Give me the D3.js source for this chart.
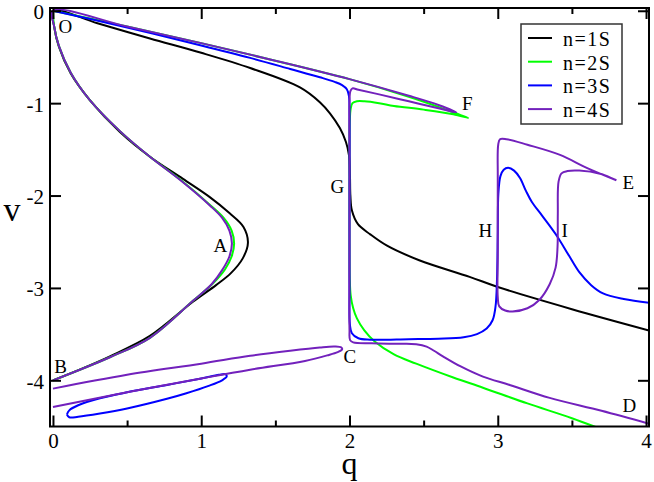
<!DOCTYPE html>
<html><head><meta charset="utf-8">
<script src="https://cdn.jsdelivr.net/npm/d3@7"></script>
<style>body{margin:0;background:#fff}svg{display:block}svg text{font-family:"Liberation Serif","Times New Roman",serif}</style>
</head><body>
<svg id="chart" width="654" height="482"></svg>
<script>
// ---------- data ----------
const xTicks = [0, 1, 2, 3, 4];
const xMinorTicks = [0.5, 1.5, 2.5, 3.5];
const yTicks = [0, -1, -2, -3, -4];
const seriesNames = ["n=1S", "n=2S", "n=3S", "n=4S"];
const seriesColors = ["#000000", "#00ff00", "#0000ff", "#7221bc"];

// n=1S : B -> A -> O -> upper branch -> q=4
const n1 = [[0,-4.0],[0.2,-3.87],[0.384,-3.74],[0.654,-3.52],[0.944,-3.15],[1.1,-2.97],[1.2,-2.84],[1.28,-2.68],[1.315,-2.51],
  [1.285,-2.34],[1.19,-2.19],[1.06,-2.02],[0.877,-1.82],[0.654,-1.58],[0.45,-1.31],[0.25,-0.97],[0.12,-0.68],[0.04,-0.39],[0.008,-0.17],[0,0],
  [0.3,-0.135],[0.654,-0.30],[1.0,-0.455],[1.33,-0.62],[1.666,-0.83],[1.80,-0.99],[1.868,-1.11],[1.935,-1.27],[1.976,-1.42],[1.996,-1.56],
  [2.003,-1.78],[2.006,-2.0],[2.016,-2.16],[2.057,-2.31],[2.14,-2.42],[2.25,-2.54],[2.47,-2.70],[2.81,-2.88],[3.0,-2.99],[3.5,-3.23],[4.02,-3.46]];

// n=2S
const n2Left = [[0,-4.0],[0.384,-3.75],[0.654,-3.54],[0.944,-3.14],[1.08,-2.95],[1.16,-2.80],[1.205,-2.66],[1.222,-2.52],[1.205,-2.38],
  [1.15,-2.24],[1.065,-2.11],[0.86,-1.83],[0.654,-1.58],[0.45,-1.30],[0.25,-0.97],[0.12,-0.67],[0.04,-0.38],[0.008,-0.17],[0,0]];
const n2Upper = [[0,0],[0.5,-0.17],[1.0,-0.35],[1.5,-0.54],[2.0,-0.74],[2.4,-0.93],[2.6,-1.04],[2.75,-1.13],[2.80,-1.16],
  [2.70,-1.12],[2.5,-1.07],[2.3,-1.03],[2.2,-1.0],[2.1,-0.98],[2.05,-0.98],[2.02,-1.0],[2.008,-1.06],[2.002,-1.2],[2.0,-1.6],[2.0,-2.4],
  [2.002,-2.9],[2.008,-3.08],[2.025,-3.22],[2.05,-3.33],[2.1,-3.46],[2.17,-3.58],[2.3,-3.72],[2.45,-3.82],[2.7,-3.97],[2.9,-4.08],
  [3.2,-4.25],[3.5,-4.41],[3.75,-4.56]];

// n=3S
const n3Upper = [[0,0],[0.5,-0.18],[1.0,-0.375],[1.33,-0.51],[1.6,-0.63],[1.8,-0.72],[1.9,-0.77],[1.95,-0.805],[1.982,-0.85],[1.996,-0.92],
  [2.0,-1.1],[2.0,-2.0],[2.0,-3.0],[2.003,-3.4],[2.016,-3.49],[2.06,-3.545],[2.14,-3.56],[2.4,-3.555],[2.6,-3.55],[2.77,-3.535],
  [2.86,-3.50],[2.925,-3.44],[2.965,-3.35],[2.985,-3.2],[2.995,-2.9],[3.0,-2.4],[3.004,-1.98],[3.018,-1.79],[3.04,-1.72],[3.07,-1.70],
  [3.11,-1.73],[3.15,-1.81],[3.19,-1.95],[3.23,-2.07],[3.3,-2.22],[3.4,-2.44],[3.48,-2.65],[3.55,-2.83],[3.63,-2.97],[3.71,-3.06],
  [3.85,-3.12],[4.02,-3.16]];
const n3Loop = [[0.094,-4.37],[0.11,-4.325],[0.17,-4.27],[0.317,-4.195],[0.5,-4.13],[0.769,-4.05],[1.0,-3.98],[1.12,-3.94],[1.165,-3.935],
  [1.172,-3.96],[1.14,-4.0],[1.05,-4.06],[0.9,-4.14],[0.769,-4.2],[0.5,-4.305],[0.317,-4.36],[0.17,-4.395],[0.11,-4.40],[0.094,-4.37]];

// n=4S
const n4Main = [[0,-4.0],[0.384,-3.75],[0.654,-3.54],[0.944,-3.14],[1.07,-2.96],[1.14,-2.81],[1.19,-2.66],[1.207,-2.52],[1.19,-2.38],
  [1.14,-2.24],[1.06,-2.11],[0.856,-1.83],[0.654,-1.58],[0.45,-1.30],[0.25,-0.97],[0.12,-0.67],[0.04,-0.38],[0.008,-0.17],[0,0],
  [0.5,-0.17],[1.0,-0.35],[1.5,-0.54],[2.0,-0.74],[2.4,-0.92],[2.6,-1.02],[2.72,-1.10],[2.6,-1.055],[2.4,-0.98],[2.2,-0.905],
  [2.06,-0.855],[2.02,-0.84],[2.006,-0.87],[2.0,-0.98],[2.0,-1.6],[2.0,-2.5],[2.0,-3.45],[2.004,-3.565],[2.025,-3.59],[2.15,-3.60],
  [2.35,-3.605],[2.45,-3.61],[2.52,-3.635],[2.57,-3.68],[2.63,-3.74],[2.75,-3.85],[2.9,-3.96],[3.08,-4.05],[3.35,-4.19],[3.7,-4.33],[4.02,-4.47]];
const n4LoopC = [[0,-4.09],[0.5,-3.94],[1.0,-3.82],[1.33,-3.735],[1.6,-3.68],[1.8,-3.645],[1.9,-3.635],[1.945,-3.645],[1.95,-3.665],
  [1.92,-3.695],[1.85,-3.73],[1.7,-3.79],[1.33,-3.885],[1.0,-3.98],[0.5,-4.13],[0,-4.29]];
const n4LoopE = [[3.80,-1.835],[3.6,-1.70],[3.42,-1.56],[3.2,-1.45],[3.06,-1.39],[3.015,-1.39],[3.003,-1.45],[3.0,-1.8],[3.0,-2.6],
  [3.0,-3.1],[3.01,-3.2],[3.05,-3.245],[3.10,-3.255],[3.2,-3.22],[3.28,-3.13],[3.35,-2.96],[3.39,-2.78],[3.403,-2.56],[3.405,-2.2],
  [3.41,-1.85],[3.43,-1.76],[3.47,-1.735],[3.55,-1.73],[3.69,-1.765],[3.80,-1.835]];

const pointLabels = ["O","A","B","C","D","E","F","G","H","I"];
const pointLabelPos = [[0.084,-0.242],[1.129,-2.614],[0.051,-3.925],[2.003,-3.817],[3.887,-4.348],[3.881,-1.932],[2.795,-1.076],[1.918,-1.975],[2.916,-2.452],[3.452,-2.452]];

// ---------- drawing ----------
const svg = d3.select("#chart");
const L = 50, R = 649, T = 8, B = 426.5;
const x = d3.scaleLinear().domain([-0.02, 4.02]).range([L, R]);
const y = d3.scaleLinear().domain([-4.5, 0.03]).range([B, T]);
const font = '"Liberation Serif","Times New Roman",serif';

svg.append("defs").append("clipPath").attr("id","clip")
  .append("rect").attr("x",L).attr("y",T).attr("width",R-L).attr("height",B-T);

const line = d3.line().x(d=>x(d[0])).y(d=>y(d[1])).curve(d3.curveCatmullRom.alpha(0.5));
const g = svg.append("g").attr("clip-path","url(#clip)");
const paths = [
  [n1, 0], [n2Left, 1], [n2Upper, 1], [n3Upper, 2], [n3Loop, 2], [n4Main, 3], [n4LoopC, 3], [n4LoopE, 3]
];
paths.forEach(([d, i]) => {
  g.append("path").attr("d", line(d)).attr("fill","none")
    .attr("stroke", seriesColors[i]).attr("stroke-width", 2).attr("stroke-linejoin","round");
});

// axes (ticks inward on all four sides)
const tickSize = 11, minorSize = 6;
function styleAxis(sel){
  sel.attr("font-family", null).attr("font-size", null);
  sel.select(".domain").remove();
  sel.selectAll("line").attr("stroke","#000").attr("stroke-width",2);
}
function styleText(sel){ sel.selectAll("text").style("font-family",font).style("font-size","21px").attr("fill","#000"); }
svg.append("g").attr("transform",`translate(0,${B})`)
  .call(d3.axisBottom(x).tickValues(xTicks).tickSize(-tickSize).tickFormat(d3.format("d")).tickPadding(7))
  .call(styleAxis).call(styleText);
svg.append("g").attr("transform",`translate(0,${B})`)
  .call(d3.axisBottom(x).tickValues(xMinorTicks).tickSize(-minorSize).tickFormat(""))
  .call(styleAxis);
svg.append("g").attr("transform",`translate(0,${T})`)
  .call(d3.axisTop(x).tickValues(xTicks).tickSize(-tickSize).tickFormat("")).call(styleAxis);
svg.append("g").attr("transform",`translate(0,${T})`)
  .call(d3.axisTop(x).tickValues(xMinorTicks).tickSize(-minorSize).tickFormat("")).call(styleAxis);
svg.append("g").attr("transform",`translate(${L},0)`)
  .call(d3.axisLeft(y).tickValues(yTicks).tickSize(-tickSize).tickFormat(d3.format("d")).tickPadding(6))
  .call(styleAxis).call(styleText).call(s=>s.selectAll("text").attr("dy","0.38em"));
svg.append("g").attr("transform",`translate(${R},0)`)
  .call(d3.axisRight(y).tickValues(yTicks).tickSize(-tickSize).tickFormat("")).call(styleAxis);
svg.selectAll(".tick text").filter(function(){return this.textContent.startsWith("−");})
  .text(function(){return "-" + this.textContent.slice(1);});

svg.append("rect").attr("x",L).attr("y",T).attr("width",R-L).attr("height",B-T)
  .attr("fill","none").attr("stroke","#000").attr("stroke-width",2);

// axis titles
svg.append("text").attr("x",(x(0)+x(4))/2).attr("y",474).attr("text-anchor","middle")
  .style("font-family",font).style("font-size","32px").text("q");
svg.append("text").attr("x",12).attr("y",221).attr("text-anchor","middle")
  .style("font-family",font).style("font-size","34px").text("v");

// point labels
svg.append("g").selectAll("text").data(pointLabels).join("text")
  .attr("x",(d,i)=>x(pointLabelPos[i][0])).attr("y",(d,i)=>y(pointLabelPos[i][1]))
  .attr("text-anchor","middle").style("font-family",font).style("font-size","19px").text(d=>d);

// legend
const lg = svg.append("g");
lg.append("rect").attr("x",521).attr("y",24).attr("width",101).attr("height",100)
  .attr("fill","#fff").attr("stroke","#333").attr("stroke-width",1.5);
seriesNames.forEach((n,i)=>{
  const yy = 38 + i*23.7;
  lg.append("line").attr("x1",528).attr("x2",552).attr("y1",yy).attr("y2",yy)
    .attr("stroke",seriesColors[i]).attr("stroke-width",2);
  lg.append("text").attr("x",563).attr("y",yy+8).style("font-family",font).style("font-size","20px")
    .style("letter-spacing","1.5px").text(n);
});
</script>
</body></html>
